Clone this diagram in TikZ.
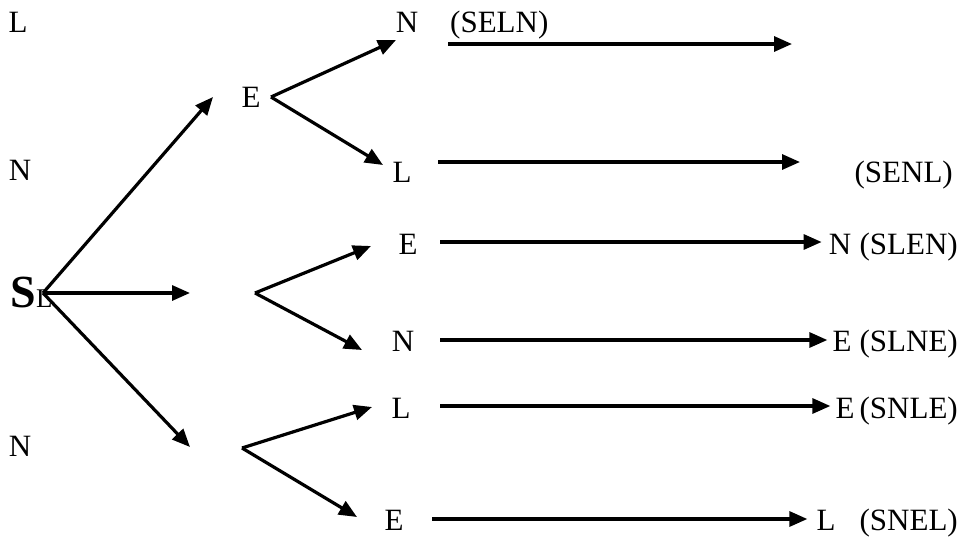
\documentclass[tikz,border=0pt]{standalone}
\usepackage{fontspec}
\setmainfont{Liberation Serif}
\usetikzlibrary{arrows.meta}

\tikzset{
  arr/.style={line width=3.2pt,-{Triangle[length=18pt,width=15pt]}},
  lbl/.style={font=\fontsize{31}{36}\selectfont,inner sep=0pt,anchor=base},
  path/.style={lbl,anchor=base east},
}

\begin{document}
\begin{tikzpicture}[x=1pt,y=-1pt]

\useasboundingbox (0,0) rectangle (964,538);

%=================================================
% LEFT COLUMN
%=================================================

\node[lbl] (ltop) at (18,32) {L};
\node[lbl] (nmid) at (20,180) {N};
\node[lbl] (nbot) at (20,456) {N};

% start
\node[inner sep=0pt,anchor=base west,font=\fontsize{46}{52}\selectfont\bfseries]
(s) at (10,307) {S};
\node[inner sep=0pt,anchor=base west,font=\fontsize{27}{32}\selectfont]
(sl) at (s.base east) {L};

\coordinate (sj) at (43,293);
\coordinate (sup) at (213,97);
\coordinate (smid) at (190,293);
\coordinate (sdown) at (190,447);

\draw[arr] (sj) -- (sup);
\draw[arr] (sj) -- (smid);
\draw[arr] (sj) -- (sdown);

%=================================================
% MIDDLE
%=================================================

% upper fork
\node[lbl] (e1) at (251,107) {E};
\coordinate (ej) at (271,97);
\node[lbl] (n1) at (407,32) {N};
\node[lbl] (l2) at (402,182) {L};
\coordinate (ejup) at (396,40);
\coordinate (ejdown) at (383,165);
\draw[arr] (ej) -- (ejup);
\draw[arr] (ej) -- (ejdown);

% middle fork
\coordinate (mj) at (255,293);
\node[lbl] (e3) at (408,254) {E};
\node[lbl] (n4) at (403,351) {N};
\coordinate (mjup) at (371,246);
\coordinate (mjdown) at (362,350);
\draw[arr] (mj) -- (mjup);
\draw[arr] (mj) -- (mjdown);

% lower fork
\coordinate (bj) at (242,448);
\node[lbl] (l5) at (401,418) {L};
\node[lbl] (e6) at (394,530) {E};
\coordinate (bjup) at (372,407);
\coordinate (bjdown) at (357,517);
\draw[arr] (bj) -- (bjup);
\draw[arr] (bj) -- (bjdown);

%=================================================
% RIGHT COLUMN
%=================================================

% SELN
\node[lbl,anchor=base west] (p1) at (450,32) {(SELN)};
\coordinate (r1a) at (448,44);
\coordinate (r1b) at (792,44);
\draw[arr] (r1a) -- (r1b);

% SENL
\node[path] (p2) at (953,182) {(SENL)};
\coordinate (r2a) at (438,162);
\coordinate (r2b) at (800,162);
\draw[arr] (r2a) -- (r2b);

% SLEN
\node[lbl] (n3) at (840,254) {N};
\node[path] (p3) at (958,254) {(SLEN)};
\coordinate (r3a) at (440,242);
\draw[arr,shorten >=7pt] (r3a) -- (n3.west |- r3a);

% SLNE
\node[lbl] (e4) at (842,351) {E};
\node[path] (p4) at (958,351) {(SLNE)};
\coordinate (r4a) at (440,340);
\draw[arr,shorten >=5pt] (r4a) -- (e4.west |- r4a);

% SNLE
\node[lbl] (e5) at (845,418) {E};
\node[path] (p5) at (958,418) {(SNLE)};
\coordinate (r5a) at (440,406);
\draw[arr,shorten >=5pt] (r5a) -- (e5.west |- r5a);

% SNEL
\node[lbl] (l6) at (826,530) {L};
\node[path] (p6) at (958,530) {(SNEL)};
\coordinate (r6a) at (432,519);
\draw[arr,shorten >=9pt] (r6a) -- (l6.west |- r6a);

\end{tikzpicture}
\end{document}
